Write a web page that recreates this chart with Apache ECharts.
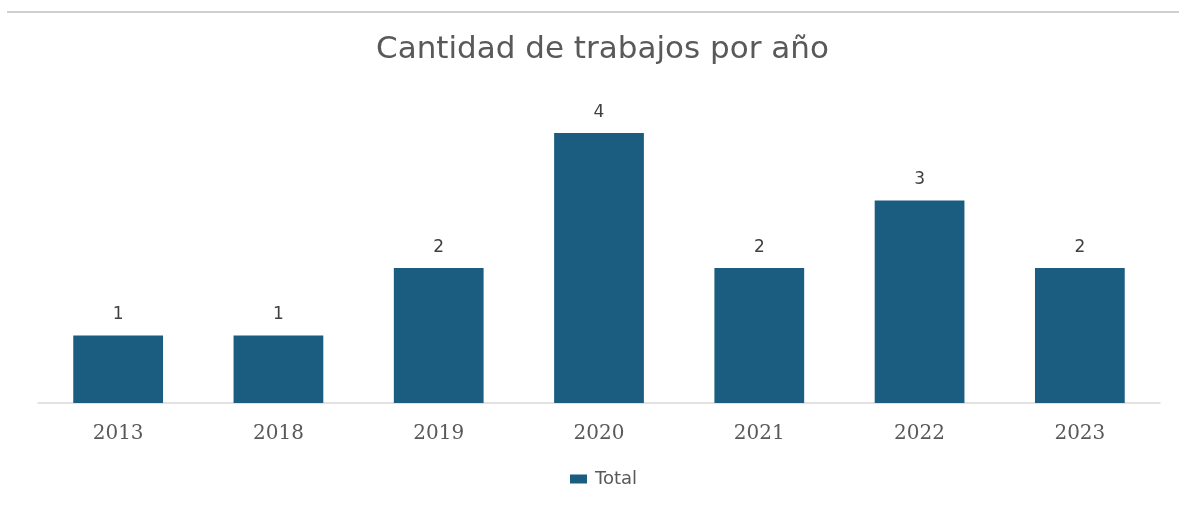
<!DOCTYPE html>
<html>
<head>
<meta charset="utf-8">
<script src="https://cdn.jsdelivr.net/npm/echarts@6/dist/echarts.min.js"></script>
<style>
  html, body { margin: 0; padding: 0; background: #ffffff; }
  #chart { width: 1179px; height: 506px; }
</style>
</head>
<body>
<div id="chart"></div>
<script>
// Publications per year
const years = ['2013', '2018', '2019', '2020', '2021', '2022', '2023'];
const totals = [1, 1, 2, 4, 2, 3, 2];
const seriesName = 'Total';
const titleText = 'Cantidad de trabajos por año';

const chart = echarts.init(document.getElementById('chart'), null, { renderer: 'canvas' });

chart.setOption({
  backgroundColor: '#ffffff',
  animation: false,
  title: {
    text: titleText,
    left: 371,
    top: 29,
    textStyle: {
      fontFamily: 'DejaVu Sans, sans-serif',
      fontSize: 31,
      fontWeight: 'normal',
      color: '#595959'
    }
  },
  graphic: [
    {
      type: 'line',
      shape: { x1: 7, y1: 12, x2: 1179, y2: 12 },
      style: { stroke: '#cfcfcf', lineWidth: 2 }
    }
  ],
  legend: {
    data: [seriesName],
    bottom: 13,
    left: 565,
    itemWidth: 17,
    itemHeight: 9,
    itemGap: 6,
    icon: 'rect',
    textStyle: {
      fontFamily: 'DejaVu Sans, sans-serif',
      fontSize: 18,
      padding: [0, 0, 0, 3],
      color: '#595959'
    }
  },
  grid: {
    left: 38,
    right: 19,
    top: 133,
    bottom: 103,
    containLabel: false
  },
  xAxis: {
    type: 'category',
    data: years,
    axisLine: { show: true, lineStyle: { color: '#d9d9d9', width: 1.5 } },
    axisTick: { show: false },
    axisLabel: {
      margin: 21,
      fontFamily: 'DejaVu Serif, serif',
      fontSize: 20,
      color: '#595959'
    }
  },
  yAxis: {
    type: 'value',
    min: 0,
    max: 4,
    interval: 1,
    show: false,
    splitLine: { show: false }
  },
  series: [
    {
      name: seriesName,
      type: 'bar',
      data: totals,
      barCategoryGap: '44%',
      itemStyle: { color: '#1a5d80' },
      label: {
        show: true,
        position: 'top',
        distance: 12,
        fontFamily: 'DejaVu Sans, sans-serif',
        fontSize: 17,
        color: '#404040'
      }
    }
  ]
});
</script>
</body>
</html>
